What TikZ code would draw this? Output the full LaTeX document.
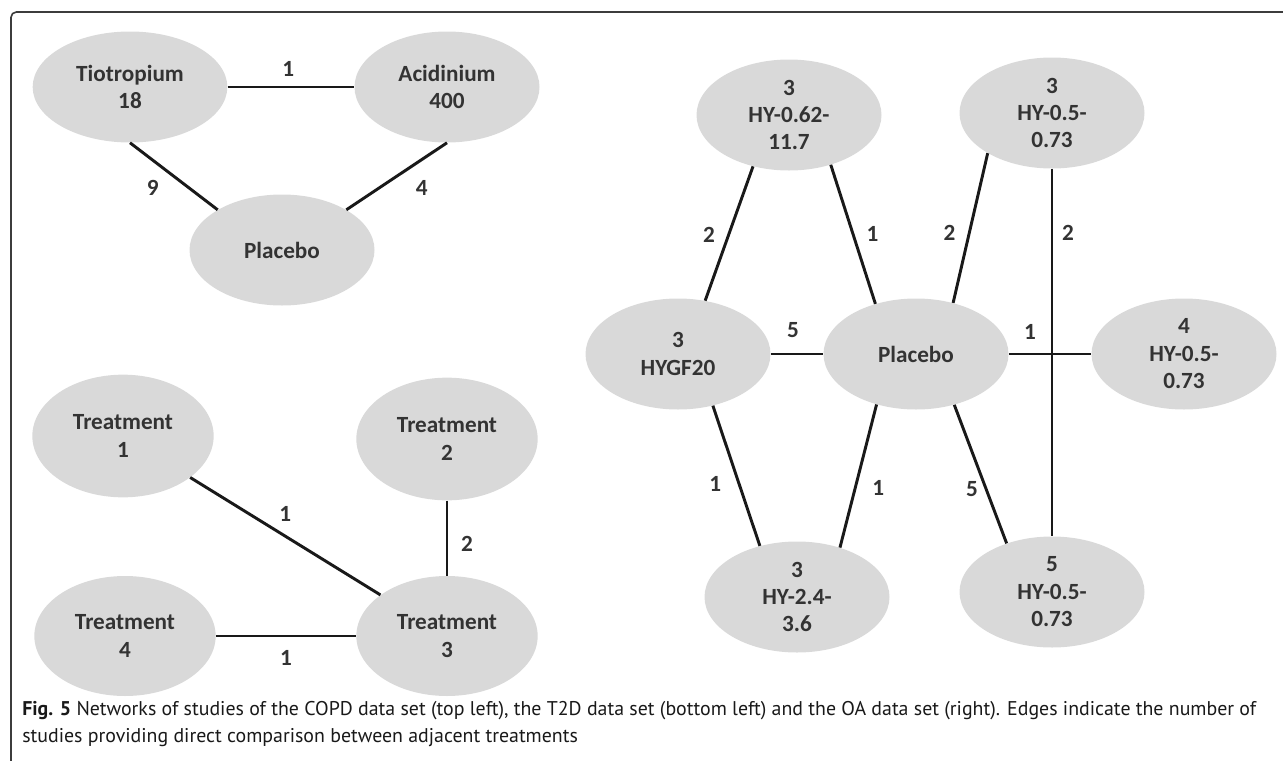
\documentclass[tikz,border=0pt]{standalone}
\usepackage{fontspec}
\setmainfont{Carlito}
\newfontfamily\capfont{PT Sans}
\usepackage{tikz}
\usetikzlibrary{shapes.geometric,positioning}
\definecolor{bubble}{RGB}{217,217,217}
\definecolor{ink}{RGB}{51,51,51}
\definecolor{framegray}{RGB}{60,60,60}

\begin{document}
\begin{tikzpicture}[x=0.75pt, y=-0.75pt,
   lbl/.style={inner sep=0pt, text=ink, font=\fontsize{17.4}{20.6}\selectfont\bfseries}]
   \useasboundingbox (0,0) rectangle (1283,761);
   % frame
   \draw[line width=1.2pt, framegray, rounded corners=4pt] (11,761) -- (11,12) -- (1283,12);
   \begin{scope}[every node/.style={ellipse, fill=bubble, inner sep=0pt, align=center,
       minimum width=138.75pt, minimum height=83.25pt, text=ink,
       font=\fontsize{17.4}{20.6}\selectfont\bfseries}]
    % COPD
    \node[minimum width=146pt] (tio) at (130,87) {Tiotropium\\18};
    \node (acl) at (447,87) {Acidinium\\400};
    \node (pla1) at (282,250) {Placebo};
    % T2D
    \node[minimum width=136pt, minimum height=92pt] (tr1) at (123,436) {Treatment\\1};
    \node[minimum width=136pt, minimum height=92pt] (tr2) at (447,439) {Treatment\\2};
    \node[minimum width=136pt, minimum height=90pt] (tr4) at (125,636) {Treatment\\4};
    \node[minimum width=136pt, minimum height=90pt] (tr3) at (447,636) {Treatment\\3};
    % OA
    \node (hy062) at (789,115) {3\\HY-0.62-\\11.7};
    \node (hy05a) at (1052,113) {3\\HY-0.5-\\0.73};
    \node (hygf) at (678,354) {3\\HYGF20};
    \node (pla2) at (916,354) {Placebo};
    \node (hy05b) at (1184,354) {4\\HY-0.5-\\0.73};
    \node (hy24) at (797,597) {3\\HY-2.4-\\3.6};
    \node (hy05c) at (1052,592) {5\\HY-0.5-\\0.73};
   \end{scope}
   \begin{scope}[every edge/.style={draw=black!90, line width=2.2pt}]
    \draw (tio) edge node[lbl, xshift=-2pt, yshift=13.5pt]{1} (acl);
    \draw (tio.south) edge node[lbl, xshift=-15.75pt, yshift=-9pt]{9} (pla1.148);
    \draw (acl.south) edge node[lbl, xshift=18.75pt, yshift=-9pt]{4} (pla1.32);
    \draw (tr1) edge node[lbl, yshift=17pt]{1} (tr3);
    \draw (tr2) edge node[lbl, xshift=15pt, yshift=-4pt]{2} (tr3);
    \draw (tr4) edge node[lbl, yshift=-16.5pt]{1} (tr3);
    \draw (hy062.235) edge node[lbl, xshift=-15pt, yshift=-1pt]{2} (hygf.63);
    \draw (hy062.310) edge node[lbl, xshift=14.6pt]{1} (pla2.129);
    \draw (pla2.54) edge node[lbl, xshift=-15.75pt, yshift=-3.75pt]{2} (hy05a.212);
    \draw (hygf) edge node[lbl, xshift=-3pt, yshift=18pt]{5} (pla2);
    \draw (pla2) edge node[lbl, xshift=-15pt, yshift=16.5pt]{1} (hy05b);
    \draw (hy05a) edge node[lbl, pos=.175, xshift=12pt]{2} (hy05c);
    \draw (hygf.304) edge node[lbl, xshift=-15.75pt, yshift=-6.4pt]{1} (hy24.126);
    \draw (pla2.232) edge node[lbl, xshift=15pt, yshift=-9pt]{1} (hy24.49);
    \draw (pla2.307) edge node[lbl, xshift=-6.4pt, yshift=-10.9pt]{5} (hy05c.133);
   \end{scope}
   % caption
   \node[anchor=west, align=left, inner sep=0pt, text=black!90,
     font=\capfont\fontsize{14.9}{20.5}\selectfont] (cap) at (22,724)
     {\textbf{Fig. 5} Networks of studies of the COPD data set (top left), the T2D data set (bottom left) and the OA data set (right). Edges indicate the number of\\
      studies providing direct comparison between adjacent treatments};
\end{tikzpicture}
\end{document}
